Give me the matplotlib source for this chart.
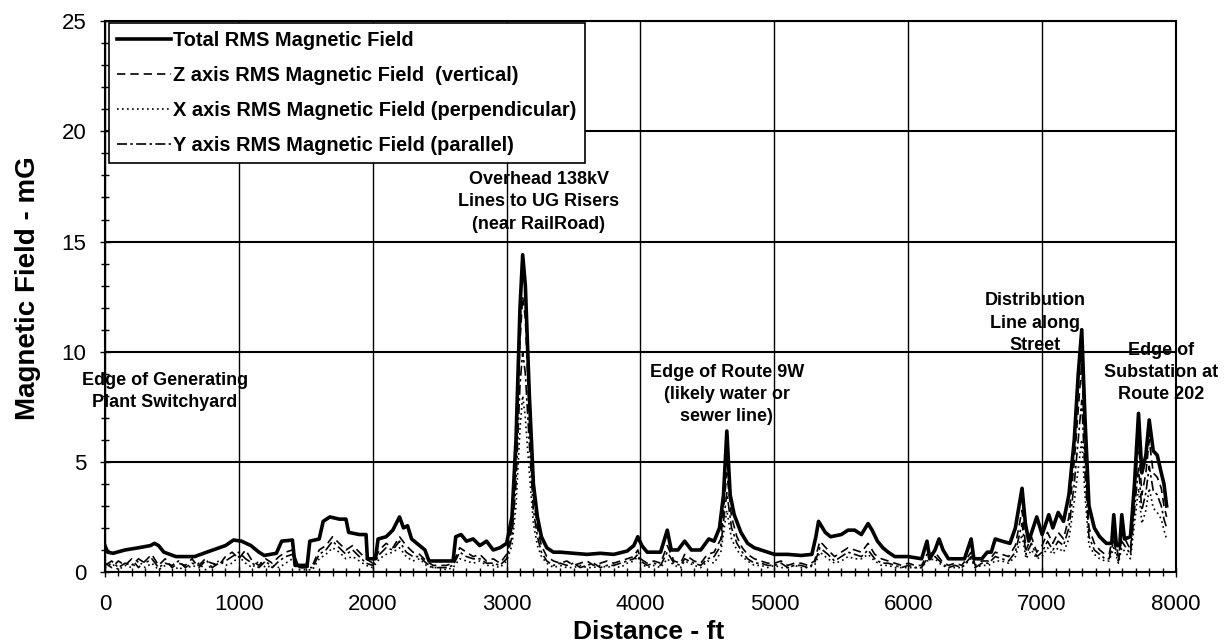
import matplotlib.pyplot as plt
from matplotlib.ticker import MultipleLocator

plt.rcParams["font.family"] = ["Liberation Sans", "DejaVu Sans"]

# total RMS field (ft, mG)
TOTAL_FT = [0, 20, 60, 150, 250, 340, 370, 400, 440, 530, 670, 760, 900, 960, 1020, 1090,
            1150, 1190, 1280, 1320, 1400, 1420, 1510, 1530, 1600, 1630, 1680, 1750, 1800,
            1820, 1900, 1950, 1960, 2020, 2040, 2100, 2150, 2200, 2230, 2260, 2290, 2350,
            2390, 2420, 2500, 2600, 2620, 2660, 2700, 2750, 2800, 2850, 2900, 2950, 3000,
            3040, 3070, 3100, 3120, 3140, 3170, 3200, 3230, 3260, 3300, 3350, 3400, 3500,
            3600, 3700, 3800, 3900, 3950, 3980, 4010, 4050, 4150, 4200, 4230, 4280, 4330,
            4380, 4450, 4510, 4550, 4590, 4620, 4645, 4670, 4700, 4750, 4800, 4850, 4900,
            5000, 5100, 5200, 5280, 5310, 5330, 5380, 5420, 5500, 5550, 5600, 5650, 5700,
            5730, 5770, 5810, 5850, 5900, 6000, 6100, 6140, 6160, 6200, 6230, 6260, 6300,
            6420, 6470, 6490, 6550, 6590, 6620, 6650, 6700, 6760, 6800, 6850, 6875, 6900,
            6960, 7000, 7050, 7080, 7120, 7160, 7200, 7240, 7270, 7296, 7320, 7350, 7390,
            7430, 7480, 7520, 7535, 7555, 7580, 7595, 7615, 7660, 7690, 7720, 7745, 7775,
            7800, 7830, 7860, 7890, 7910, 7930]
TOTAL_MG = [1.2, 0.9, 0.85, 1.0, 1.1, 1.2, 1.3, 1.2, 0.9, 0.7, 0.7, 0.9, 1.2, 1.45, 1.4, 1.2,
            0.9, 0.75, 0.85, 1.4, 1.45, 0.3, 0.3, 1.4, 1.5, 2.3, 2.5, 2.4, 2.4,
            1.8, 1.7, 1.7, 0.6, 0.6, 1.5, 1.6, 1.9, 2.5, 2.0, 2.1, 1.5, 1.2,
            1.0, 0.5, 0.5, 0.5, 1.6, 1.7, 1.4, 1.5, 1.2, 1.4, 1.0, 1.1, 1.3,
            2.5, 6.0, 12.0, 14.4, 13.0, 8.0, 4.0, 2.5, 1.6, 1.1, 0.9, 0.9, 0.85,
            0.8, 0.85, 0.8, 0.95, 1.2, 1.6, 1.2, 0.9, 0.9, 1.9, 1.0, 1.0, 1.4,
            1.0, 1.0, 1.5, 1.4, 2.0, 3.5, 6.4, 3.5, 2.6, 1.8, 1.3, 1.1, 1.0,
            0.8, 0.8, 0.75, 0.8, 1.6, 2.3, 1.8, 1.6, 1.7, 1.9, 1.9, 1.7, 2.2,
            1.9, 1.4, 1.1, 0.9, 0.7, 0.7, 0.6, 1.4, 0.6, 1.0, 1.5, 1.0, 0.6,
            0.6, 1.5, 0.6, 0.6, 0.9, 0.9, 1.5, 1.4, 1.3, 2.0, 3.8, 2.2, 1.4,
            2.5, 1.7, 2.6, 2.0, 2.7, 2.3, 3.5, 6.0, 9.0, 11.0, 7.0, 3.0, 2.0,
            1.6, 1.3, 1.3, 2.6, 1.2, 1.2, 2.6, 1.5, 1.6, 4.0, 7.2, 4.5, 5.3,
            6.9, 5.5, 5.3, 4.5, 4.0, 3.0]

# component positions (ft)
COMP_FT = [0, 50, 100, 150, 200, 250, 300, 350, 400, 450,
           500, 550, 600, 650, 700, 750, 800, 850, 900, 950,
           1000, 1050, 1100, 1150, 1200, 1250, 1300, 1350, 1400, 1450,
           1500, 1550, 1600, 1650, 1700, 1750, 1800, 1850, 1900, 1950,
           2000, 2050, 2100, 2150, 2200, 2250, 2300, 2350, 2400, 2450,
           2500, 2550, 2600, 2650, 2700, 2750, 2800, 2850, 2900, 2950,
           3000, 3040, 3070, 3100, 3120, 3140, 3170, 3200, 3230, 3260,
           3300, 3350, 3400, 3450, 3500, 3550, 3600, 3650, 3700, 3750,
           3800, 3850, 3900, 3950, 3980, 4000, 4050, 4100, 4150, 4200,
           4250, 4300, 4330, 4400, 4450, 4500, 4550, 4600, 4645, 4680,
           4720, 4760, 4800, 4850, 4900, 4950, 5000, 5050, 5100, 5150,
           5200, 5250, 5300, 5340, 5400, 5450, 5500, 5550, 5600, 5650,
           5700, 5750, 5800, 5850, 5900, 5950, 6000, 6050, 6100, 6140,
           6200, 6250, 6300, 6350, 6400, 6470, 6500, 6550, 6600, 6650,
           6700, 6750, 6800, 6850, 6880, 6920, 6960, 7000, 7040, 7080,
           7120, 7160, 7200, 7240, 7296, 7320, 7350, 7390, 7430, 7470,
           7500, 7535, 7570, 7595, 7660, 7720, 7745, 7775, 7800, 7830,
           7860, 7890, 7910, 7930]

Z_MG = [0.4, 0.2, 0.5, 0.3, 0.6, 0.2, 0.5, 0.8, 0.3, 0.6,
        0.2, 0.4, 0.3, 0.6, 0.2, 0.5, 0.4, 0.3, 0.7, 0.9,
        0.6, 1.0, 0.5, 0.3, 0.6, 0.4, 0.7, 0.9, 1.0, 0.2,
        0.2, 0.3, 1.0, 1.2, 1.6, 1.3, 1.0, 1.2, 0.9, 0.6,
        0.4, 1.0, 1.3, 1.1, 1.6, 1.2, 0.9, 0.8, 0.5, 0.3,
        0.3, 0.3, 0.4, 1.1, 0.9, 0.7, 0.8, 0.5, 0.6, 0.4,
        0.8, 2.0, 5.0, 10.5, 12.5, 11.5, 7.0, 3.5, 2.0, 1.2,
        0.7, 0.5, 0.4, 0.5, 0.3, 0.4, 0.5, 0.3, 0.4, 0.5,
        0.4, 0.5, 0.6, 0.7, 1.0, 0.6, 0.4, 0.5, 0.4, 1.2,
        0.5, 0.4, 0.8, 0.5, 0.4, 0.8, 0.9, 1.5, 4.5, 2.5,
        1.6, 1.1, 0.8, 0.6, 0.5, 0.4, 0.4, 0.5, 0.3, 0.4,
        0.4, 0.3, 0.5, 1.4, 1.0, 0.7, 0.9, 1.1, 1.0, 0.9,
        1.3, 0.8, 0.6, 0.5, 0.4, 0.3, 0.4, 0.3, 0.3, 0.8,
        0.9, 0.5, 0.3, 0.4, 0.3, 0.9, 0.3, 0.5, 0.5, 0.9,
        0.8, 0.7, 1.2, 2.8, 1.0, 1.6, 0.9, 1.2, 1.8, 1.3,
        1.8, 1.5, 2.5, 5.0, 9.5, 5.5, 2.0, 1.3, 1.0, 0.8,
        0.8, 1.8, 0.7, 1.8, 1.0, 6.0, 3.5, 4.5, 6.0, 4.5,
        4.3, 3.8, 3.0, 2.5]

X_MG = [0.2, 0.4, 0.1, 0.3, 0.2, 0.5, 0.2, 0.4, 0.1, 0.3,
        0.4, 0.1, 0.3, 0.2, 0.4, 0.1, 0.3, 0.5, 0.3, 0.4,
        0.7, 0.4, 0.2, 0.5, 0.2, 0.3, 0.2, 0.4, 0.6, 0.1,
        0.1, 0.1, 0.6, 0.8, 1.1, 0.9, 0.6, 0.7, 0.5, 0.3,
        0.2, 0.6, 0.8, 0.9, 1.1, 0.7, 0.5, 0.6, 0.3, 0.2,
        0.2, 0.1, 0.2, 0.6, 0.5, 0.4, 0.5, 0.3, 0.3, 0.2,
        0.5, 1.2, 3.0, 6.5, 8.0, 7.0, 4.5, 2.2, 1.2, 0.7,
        0.4, 0.2, 0.3, 0.2, 0.2, 0.3, 0.2, 0.2, 0.3, 0.2,
        0.3, 0.2, 0.4, 0.5, 0.7, 0.4, 0.2, 0.3, 0.2, 0.6,
        0.3, 0.2, 0.5, 0.3, 0.2, 0.5, 0.4, 0.9, 2.8, 1.5,
        1.0, 0.7, 0.5, 0.3, 0.3, 0.2, 0.3, 0.2, 0.2, 0.3,
        0.2, 0.2, 0.3, 0.9, 0.6, 0.4, 0.5, 0.7, 0.6, 0.6,
        0.8, 0.5, 0.3, 0.3, 0.2, 0.2, 0.2, 0.2, 0.2, 0.5,
        0.6, 0.3, 0.2, 0.2, 0.2, 0.6, 0.2, 0.3, 0.3, 0.5,
        0.5, 0.4, 0.7, 1.7, 0.6, 1.0, 0.6, 0.7, 1.1, 0.8,
        1.1, 0.9, 1.5, 3.2, 6.0, 3.5, 1.2, 0.8, 0.6, 0.5,
        0.5, 1.1, 0.4, 1.1, 0.6, 3.8, 2.2, 2.8, 3.8, 2.9,
        2.7, 2.4, 1.9, 1.5]

Y_MG = [0.3, 0.5, 0.2, 0.4, 0.3, 0.6, 0.4, 0.6, 0.2, 0.4,
        0.3, 0.5, 0.2, 0.4, 0.3, 0.6, 0.2, 0.4, 0.5, 0.7,
        0.9, 0.6, 0.4, 0.2, 0.5, 0.2, 0.5, 0.7, 0.8, 0.2,
        0.2, 0.2, 0.8, 1.0, 1.4, 1.1, 0.8, 1.0, 0.7, 0.4,
        0.3, 0.8, 1.1, 1.0, 1.4, 0.9, 0.7, 0.7, 0.4, 0.2,
        0.2, 0.2, 0.3, 0.9, 0.7, 0.6, 0.6, 0.4, 0.4, 0.3,
        0.6, 1.6, 4.0, 8.5, 10.0, 9.0, 5.8, 2.8, 1.6, 0.9,
        0.5, 0.3, 0.4, 0.3, 0.4, 0.2, 0.3, 0.4, 0.2, 0.3,
        0.3, 0.4, 0.5, 0.6, 0.8, 0.5, 0.3, 0.4, 0.3, 0.9,
        0.4, 0.3, 0.6, 0.4, 0.3, 0.6, 0.7, 1.2, 3.6, 2.0,
        1.3, 0.9, 0.6, 0.4, 0.4, 0.3, 0.3, 0.4, 0.2, 0.3,
        0.3, 0.2, 0.4, 1.1, 0.8, 0.5, 0.7, 0.9, 0.8, 0.7,
        1.0, 0.6, 0.4, 0.4, 0.3, 0.2, 0.3, 0.2, 0.2, 0.6,
        0.7, 0.4, 0.2, 0.3, 0.2, 0.7, 0.2, 0.4, 0.4, 0.7,
        0.6, 0.5, 0.9, 2.2, 0.8, 1.3, 0.7, 0.9, 1.4, 1.0,
        1.4, 1.2, 2.0, 4.0, 7.8, 4.5, 1.6, 1.0, 0.8, 0.6,
        0.6, 1.4, 0.5, 1.4, 0.8, 4.8, 2.8, 3.6, 4.8, 3.7,
        3.5, 3.0, 2.4, 2.0]

LEGEND_LABELS = [
    "Total RMS Magnetic Field",
    "Z axis RMS Magnetic Field  (vertical)",
    "X axis RMS Magnetic Field (perpendicular)",
    "Y axis RMS Magnetic Field (parallel)",
]

# (text, ft, mG)
NOTES = [
    ("Edge of Generating\nPlant Switchyard", 448, 8.2),
    ("Overhead 138kV\nLines to UG Risers\n(near RailRoad)", 3240, 16.8),
    ("Edge of Route 9W\n(likely water or\nsewer line)", 4645, 8.05),
    ("Distribution\nLine along\nStreet", 6946, 11.3),
    ("Edge of\nSubstation at\nRoute 202", 7886, 9.05),
]

fig = plt.figure(figsize=(12.25, 6.44), dpi=100)
ax = fig.add_axes([0.0857, 0.1118, 0.8743, 0.8552])

ax.plot(TOTAL_FT, TOTAL_MG, color="black", lw=2.6, label=LEGEND_LABELS[0], zorder=5)
ax.plot(COMP_FT, Z_MG, color="black", lw=1.2, ls=(0, (5, 3)), label=LEGEND_LABELS[1], zorder=4)
ax.plot(COMP_FT, X_MG, color="black", lw=1.2, ls=(0, (1, 2)), label=LEGEND_LABELS[2], zorder=4)
ax.plot(COMP_FT, Y_MG, color="black", lw=1.2, ls=(0, (6, 2, 1.5, 2)), label=LEGEND_LABELS[3], zorder=4)

ax.set_xlim(0, 8000)
ax.set_ylim(0, 25)
ax.xaxis.set_major_locator(MultipleLocator(1000))
ax.xaxis.set_minor_locator(MultipleLocator(100))
ax.yaxis.set_major_locator(MultipleLocator(5))
ax.yaxis.set_minor_locator(MultipleLocator(1))
ax.grid(True, which="major", axis="x", color="black", lw=1.0)
ax.grid(True, which="major", axis="y", color="black", lw=1.5)
ax.tick_params(which="both", direction="inout", color="black")
ax.tick_params(which="major", length=7, width=1)
ax.tick_params(which="minor", length=6, width=1)
ax.tick_params(axis="x", which="major", labelsize=16, pad=12)
ax.tick_params(axis="y", which="major", labelsize=16, pad=10)
for s in ax.spines.values():
    s.set_color("black")
    s.set_linewidth(1.5)

ax.set_xlabel("Distance - ft", fontsize=19, fontweight="bold")
ax.xaxis.set_label_coords(0.508, -0.088)
ax.set_ylabel("Magnetic Field - mG", fontsize=20, fontweight="bold")
ax.yaxis.set_label_coords(-0.06, 0.515)

for text, x, y in NOTES:
    ax.text(x, y, text, ha="center", va="center", fontsize=13, fontweight="bold",
            linespacing=1.4, zorder=6, clip_on=False)

leg = ax.legend(loc="upper left", bbox_to_anchor=(0.004, 0.997), borderaxespad=0,
                prop={"weight": "bold", "size": 14.4}, handlelength=2.7, handletextpad=0.1,
                labelspacing=0.8, borderpad=0.4, frameon=True, fancybox=False,
                framealpha=1, edgecolor="black")
leg.get_frame().set_linewidth(1.2)
leg.set_zorder(7)

fig.savefig("out.png", dpi=100)
